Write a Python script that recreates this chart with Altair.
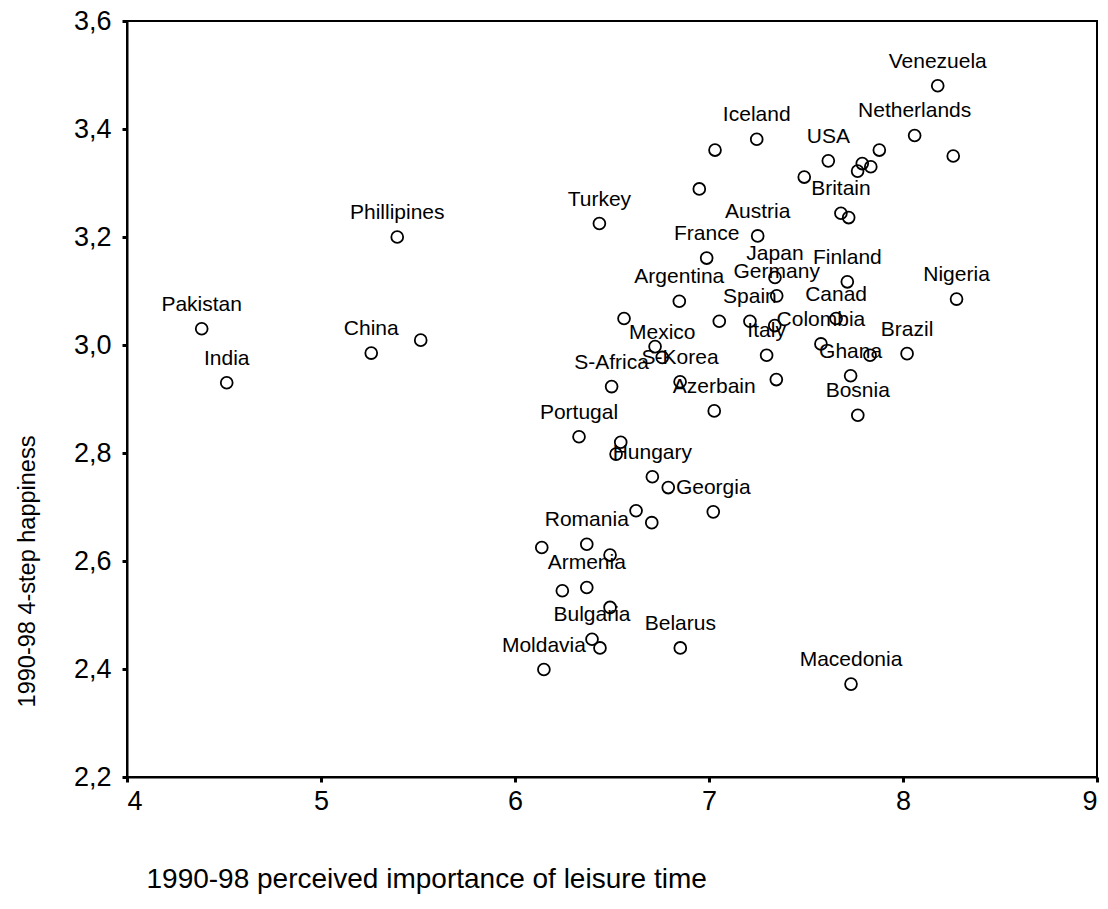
import altair as alt
import pandas as pd

countries = [
    "Pakistan", "India", "Phillipines", "China", "",
    "Turkey", "Iceland", "", "", "Venezuela",
    "Netherlands", "USA", "", "", "",
    "", "", "", "Britain", "",
    "Austria", "France", "Japan", "Finland", "Germany",
    "Nigeria", "Argentina", "Canad", "", "",
    "Spain", "", "Colombia", "Italy", "Brazil",
    "", "Mexico", "", "Ghana", "S-Korea",
    "S-Africa", "", "Azerbain", "Bosnia", "Portugal",
    "", "", "Hungary", "", "Georgia",
    "", "", "Romania", "", "",
    "Armenia", "", "", "Bulgaria", "",
    "Belarus", "Moldavia", "Macedonia",
]
leisure = [
    4.385, 4.514, 5.393, 5.259, 5.514,
    6.435, 7.246, 7.031, 6.950, 8.179,
    8.060, 7.615, 7.878, 7.790, 7.834,
    7.766, 8.259, 7.491, 7.680, 7.720,
    7.251, 6.988, 7.340, 7.713, 7.349,
    8.276, 6.847, 7.655, 6.562, 7.053,
    7.211, 7.339, 7.577, 7.297, 8.021,
    6.722, 6.759, 7.830, 7.730, 6.851,
    6.498, 7.347, 7.027, 7.767, 6.330,
    6.545, 6.521, 6.708, 6.790, 7.022,
    6.624, 6.705, 6.370, 6.138, 6.490,
    6.370, 6.244, 6.490, 6.397, 6.438,
    6.852, 6.149, 7.732,
]
happiness = [
    3.030, 2.930, 3.200, 2.985, 3.009,
    3.225, 3.381, 3.361, 3.289, 3.480,
    3.388, 3.341, 3.361, 3.336, 3.330,
    3.322, 3.350, 3.311, 3.244, 3.236,
    3.202, 3.161, 3.125, 3.117, 3.091,
    3.085, 3.081, 3.049, 3.049, 3.044,
    3.044, 3.036, 3.002, 2.981, 2.984,
    2.997, 2.977, 2.981, 2.943, 2.932,
    2.923, 2.936, 2.878, 2.870, 2.830,
    2.820, 2.798, 2.756, 2.736, 2.691,
    2.693, 2.671, 2.631, 2.625, 2.611,
    2.551, 2.545, 2.514, 2.455, 2.439,
    2.439, 2.399, 2.372,
]
x_ticks = [4, 5, 6, 7, 8, 9]
y_ticks = [2.2, 2.4, 2.6, 2.8, 3.0, 3.2, 3.4, 3.6]

df = pd.DataFrame({"country": countries, "leisure": leisure, "happiness": happiness})

FONT = "Liberation Sans"

x_enc = alt.X(
    "leisure:Q",
    scale=alt.Scale(domain=[4, 9], nice=False, zero=False),
    axis=alt.Axis(
        values=x_ticks, format="d", grid=False,
        title="1990-98 perceived importance of leisure time",
        titleAnchor="start", titleAlign="left", titleBaseline="middle",
        titleX=19, titleY=102, titleFontSize=28,
    ),
)
y_enc = alt.Y(
    "happiness:Q",
    scale=alt.Scale(domain=[2.2, 3.6], nice=False, zero=False),
    axis=alt.Axis(
        values=y_ticks, grid=False,
        labelExpr="replace(format(datum.value, '.1f'), '.', ',')",
        title="1990-98 4-step happiness",
        titleAngle=270, titleAlign="center", titleBaseline="middle",
        titleX=-100, titleY=550, titleFontSize=23.5,
    ),
)

points = alt.Chart(df).mark_point(
    shape="circle", filled=False, size=140, strokeWidth=1.8, color="black", opacity=1
).encode(x=x_enc, y=y_enc)

labels = alt.Chart(df).mark_text(
    dy=-24, align="center", baseline="middle", fontSize=21, font=FONT, color="black"
).encode(x="leisure:Q", y="happiness:Q", text="country:N")

chart = (
    alt.layer(points, labels)
    .properties(
        width=970, height=756,
        autosize=alt.AutoSizeParams(type="none"),
        padding={"left": 119, "top": 13, "right": 3, "bottom": 120},
        background="white",
    )
    .configure_view(stroke="black", strokeWidth=2)
    .configure_axis(
        domainColor="black", domainWidth=2,
        tickColor="black", tickSize=5, tickWidth=3,
        labelFont=FONT, labelFontSize=27, labelColor="black",
        titleFont=FONT, titleColor="black", titleFontWeight="normal",
    )
    .configure_axisY(labelPadding=11)
    .configure_axisX(labelPadding=6)
)

chart.save("out.html", embed_options={"renderer": "svg", "actions": False})
